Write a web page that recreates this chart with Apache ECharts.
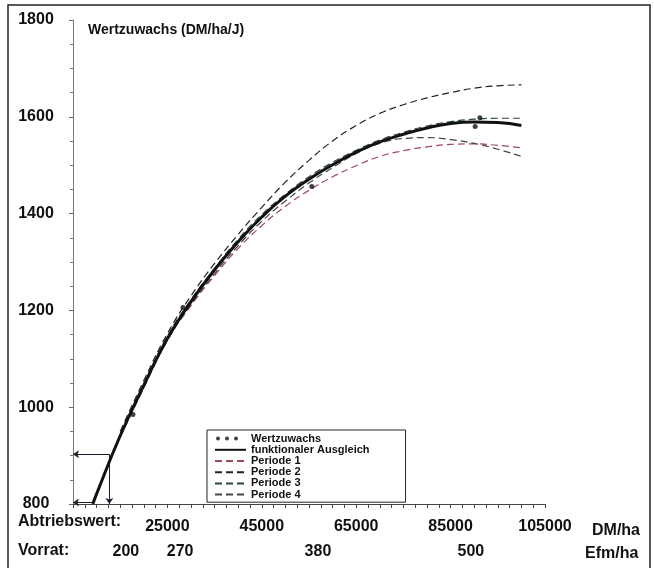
<!DOCTYPE html>
<html>
<head>
<meta charset="utf-8">
<script src="https://cdn.jsdelivr.net/npm/echarts@6/dist/echarts.min.js"></script>
<style>
html,body{margin:0;padding:0;background:#fff;}
#chart{width:654px;height:568px;}
</style>
</head>
<body>
<div id="chart"></div>
<script>
// ---- data ----
const fitX = [9200, 10000, 15000, 20000, 25000, 30000, 35000, 40000, 45000, 50000, 55000, 60000, 65000, 70000, 75000, 80000, 85000, 90000, 95000, 100000];
const fitY = [800, 821, 941, 1045, 1142, 1218, 1284, 1342, 1393, 1436, 1471, 1501, 1527, 1548, 1564, 1577, 1586, 1589, 1588, 1582];

const periodX = [15000, 20000, 25000, 30000, 35000, 40000, 45000, 50000, 55000, 60000, 65000, 70000, 75000, 80000, 85000, 90000, 95000, 100000];
const periode1 = [940, 1042, 1138, 1210, 1272, 1328, 1375, 1415, 1448, 1476, 1499, 1518, 1530, 1538, 1543, 1544, 1541, 1536];
const periode2 = [950, 1055, 1152, 1230, 1297, 1357, 1413, 1465, 1510, 1550, 1582, 1607, 1625, 1639, 1650, 1659, 1664, 1666];
const periode3 = [945, 1048, 1147, 1222, 1287, 1347, 1398, 1440, 1476, 1506, 1531, 1552, 1568, 1581, 1590, 1595, 1597, 1597];
const periode4 = [938, 1040, 1138, 1212, 1276, 1334, 1384, 1426, 1463, 1495, 1524, 1545, 1555, 1557, 1553, 1545, 1533, 1518];

const pointX = [17700, 28300, 55600, 91200, 90200];
const pointY = [985, 1206, 1456, 1598, 1580];

const abtriebTicks = [25000, 45000, 65000, 85000, 105000];
const vorratPos = [16200, 27700, 56900, 89300];
const vorratLabels = ['200', '270', '380', '500'];

const readX = [12700, 5000];
const readY = [903, 803, 800];
const startX = 9200;

const seriesNames = ['Wertzuwachs', 'funktionaler Ausgleich', 'Periode 1', 'Periode 2', 'Periode 3', 'Periode 4'];

// ---- build ----
const zip = (xs, ys) => xs.map((x, i) => [x, ys[i]]);
const FONT = '"Liberation Sans", Arial, sans-serif';
const chart = echarts.init(document.getElementById('chart'));

const dashed = (name, ys, color) => ({
  name, type: 'line', data: zip(periodX, ys), smooth: true, symbol: 'none',
  lineStyle: { color, width: 1.2, type: [7, 4] }, itemStyle: { color }, z: 3
});
const hideSym = { opacity: 0, borderWidth: 0 };

const option = {
  backgroundColor: '#fff',
  animation: false,
  textStyle: { fontFamily: FONT },
  title: {
    text: 'Wertzuwachs (DM/ha/J)', left: 88, top: 23, padding: 0,
    textStyle: { fontFamily: FONT, fontWeight: 'bold', fontSize: 14, color: '#111' }
  },
  grid: { left: 73, right: 109, top: 20, bottom: 64, containLabel: false },
  legend: {
    orient: 'vertical', left: 207, top: 430,
    padding: [3, 36, 2, 7], itemGap: 0, itemWidth: 31, itemHeight: 8,
    borderColor: '#222', borderWidth: 1, backgroundColor: '#fff',
    textStyle: { fontFamily: FONT, fontWeight: 'bold', fontSize: 11, color: '#111', lineHeight: 11.2 },
    data: [
      { name: seriesNames[0], icon: 'path://M0,0L0,0M31,8L31,8M1,4a2,2 0 1,0 4,0a2,2 0 1,0 -4,0zM10,4a2,2 0 1,0 4,0a2,2 0 1,0 -4,0zM19,4a2,2 0 1,0 4,0a2,2 0 1,0 -4,0z' },
      { name: seriesNames[1], itemStyle: hideSym },
      { name: seriesNames[2], itemStyle: hideSym },
      { name: seriesNames[3], itemStyle: hideSym },
      { name: seriesNames[4], itemStyle: hideSym },
      { name: seriesNames[5], itemStyle: hideSym }
    ]
  },
  xAxis: [
    {
      type: 'value', min: 5000, max: 105000, interval: 2500,
      axisLine: { lineStyle: { color: '#444', width: 1 } },
      axisTick: { show: true, length: 4, lineStyle: { color: '#444' } },
      splitLine: { show: false },
      axisLabel: {
        customValues: abtriebTicks, margin: 15,
        fontFamily: FONT, fontWeight: 'bold', fontSize: 16, color: '#111',
        formatter: v => String(v)
      }
    },
    {
      type: 'value', min: 5000, max: 105000, position: 'bottom', offset: 27,
      axisLine: { show: false }, axisTick: { show: false }, splitLine: { show: false },
      axisLabel: {
        customValues: vorratPos, margin: 13,
        fontFamily: FONT, fontWeight: 'bold', fontSize: 16, color: '#111',
        formatter: v => { const i = vorratPos.indexOf(v); return i >= 0 ? vorratLabels[i] : ''; }
      }
    }
  ],
  yAxis: {
    type: 'value', min: 800, max: 1800, interval: 200,
    axisLine: { show: true, lineStyle: { color: '#8a7470', width: 1 } },
    axisTick: { show: true, length: 4, lineStyle: { color: '#666' } },
    minorTick: { show: true, splitNumber: 4, length: 3, lineStyle: { color: '#777' } },
    splitLine: { show: false },
    axisLabel: { align: 'center', margin: 37, fontFamily: FONT, fontWeight: 'bold', fontSize: 16, color: '#111',
      formatter: v => String(v) }
  },
  series: [
    {
      name: seriesNames[0], type: 'scatter', data: zip(pointX, pointY),
      symbol: 'circle', symbolSize: 5, itemStyle: { color: '#111' }, z: 6
    },
    {
      name: seriesNames[1], type: 'line', data: zip(fitX, fitY), smooth: true, symbol: 'none',
      lineStyle: { color: '#111', width: 3 }, itemStyle: { color: '#111' }, z: 5,
      markLine: {
        silent: true, symbol: ['none', 'arrow'], symbolSize: 6,
        lineStyle: { type: 'solid', color: '#1c1c2c', width: 1 },
        label: { show: false },
        data: [
          [{ coord: [readX[0], readY[0]] }, { coord: [readX[1], readY[0]] }],
          [{ coord: [readX[0], readY[0]] }, { coord: [readX[0], readY[2]] }],
          [{ coord: [startX, readY[1]] }, { coord: [readX[1], readY[1]] }]
        ]
      }
    },
    dashed(seriesNames[2], periode1, '#a04a58'),
    dashed(seriesNames[3], periode2, '#222222'),
    dashed(seriesNames[4], periode3, '#2a4640'),
    dashed(seriesNames[5], periode4, '#444444')
  ],
  graphic: [
    { type: 'polyline', silent: true, shape: { points: [[8, 570], [8, 5], [650, 5], [650, 570]] },
      style: { stroke: '#222', lineWidth: 1.5, fill: null } },
    { type: 'text', left: 18, top: 514, style: { text: 'Abtriebswert:', font: 'bold 16px ' + FONT, fill: '#111' } },
    { type: 'text', left: 18, top: 543, style: { text: 'Vorrat:', font: 'bold 16px ' + FONT, fill: '#111' } },
    { type: 'text', left: 592, top: 523, style: { text: 'DM/ha', font: 'bold 16px ' + FONT, fill: '#111' } },
    { type: 'text', left: 585, top: 546, style: { text: 'Efm/ha', font: 'bold 16px ' + FONT, fill: '#111' } }
  ]
};
chart.setOption(option);
</script>
</body>
</html>
